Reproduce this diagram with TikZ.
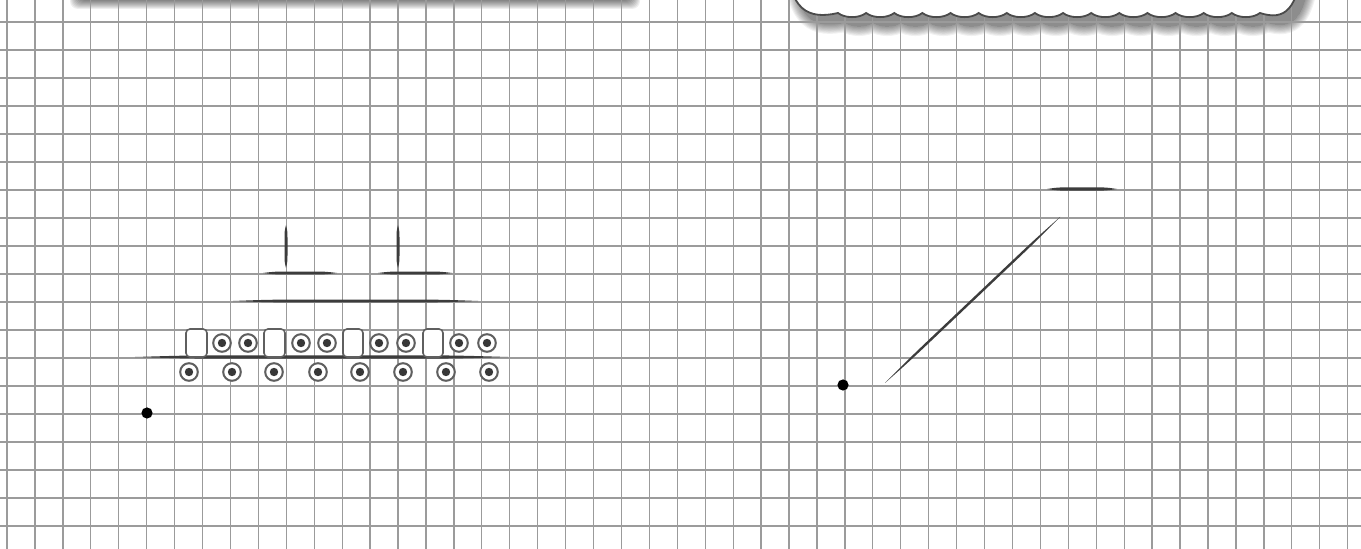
\documentclass[tikz,border=0pt]{standalone}
\usetikzlibrary{calc}
\definecolor{gridcol}{RGB}{155,155,155}
\definecolor{inkcol}{RGB}{60,60,60}
\definecolor{ringcol}{RGB}{95,95,95}
\definecolor{dotcol}{RGB}{55,55,55}
\definecolor{cloudcol}{RGB}{75,75,75}
\tikzset{
  gridline/.style={draw=gridcol, line width=0.65pt},
  doorbox/.style={draw=ringcol, line width=0.8pt, rounded corners=2pt, fill=white},
  ringstyle/.style={draw=ringcol, line width=1pt, fill=white},
}
\newcommand\taper[5]{%
  \fill[inkcol] (#1,#2)
   .. controls ($(#1,#2)!0.15!(#3,#4)!#5!90:(#3,#4)$) .. ($(#1,#2)!0.35!(#3,#4)!#5!90:(#3,#4)$)
   -- ($(#1,#2)!0.65!(#3,#4)!#5!90:(#3,#4)$)
   .. controls ($(#1,#2)!0.85!(#3,#4)!#5!90:(#3,#4)$) .. (#3,#4)
   .. controls ($(#1,#2)!0.85!(#3,#4)!#5!-90:(#3,#4)$) .. ($(#1,#2)!0.65!(#3,#4)!#5!-90:(#3,#4)$)
   -- ($(#1,#2)!0.35!(#3,#4)!#5!-90:(#3,#4)$)
   .. controls ($(#1,#2)!0.15!(#3,#4)!#5!-90:(#3,#4)$) .. (#1,#2) -- cycle;}
\newcommand\win[2]{%
  \path[ringstyle] (#1,#2) circle[radius=4.4pt];
  \fill[dotcol] (#1,#2) circle[radius=2.1pt];}
\newcommand\cloudpath{(787,-40) .. controls (789,10) and (808,20) .. (838,13)
  \foreach \k in {0,...,14}{ .. controls ({838+28.13*\k+7},18.5) and ({838+28.13*\k+21},18.5) .. ({838+28.13*(\k+1)},13) }
  .. controls (1285,21) and (1298,10) .. (1303,-40) -- cycle}
\begin{document}
\begin{tikzpicture}[x=0.5pt,y=-0.5pt]
\useasboundingbox (0,0) rectangle (1361,549);
\fill[white] (0,0) rectangle (1361,549);
\clip (0,0) rectangle (1361,549);
% shadow of the box above the frame (top left)
\foreach \e in {0,...,8}
  \fill[black, opacity=0.065, rounded corners=4pt] ({78-\e},-40) rectangle ({632+\e},{1+\e});
% shadow of the cloud above the frame (top right)
\foreach \e in {0,...,9} {
  \begin{scope}[transparency group, opacity=0.055, shift={(7,9)}]
    \path[fill=black, draw=black, line width={\e*1.1pt}] \cloudpath;
  \end{scope}
}
% grid
\foreach \i in {0,...,48} \draw[gridline] ({7+27.93*\i},0) -- ({7+27.93*\i},549);
\foreach \j in {0,...,18} \draw[gridline] (0,{22+28*\j}) -- (1361,{22+28*\j});
% cloud
\path[fill=white, draw=cloudcol, line width=0.9pt] \cloudpath;
% ship
\taper{135}{357}{508}{357}{0.85pt}
\taper{233}{301}{478}{301}{0.7pt}
\taper{263}{273}{337}{273}{0.7pt}
\taper{378}{273}{452}{273}{0.7pt}
\taper{286}{225}{286}{268}{0.75pt}
\taper{398}{225}{398}{268}{0.75pt}
\path[doorbox] (186,329) rectangle (207,357);
\path[doorbox] (264,329) rectangle (285,357);
\path[doorbox] (343,329) rectangle (363,357);
\path[doorbox] (423,329) rectangle (443,357);
\foreach \x in {222,248,301,327,379,406,459,487} {\win{\x}{343}}
\foreach \x in {189,232,274,318,360,403,446,489} {\win{\x}{372}}
\fill[black] (147,413) circle[radius=2.8pt];
% right figure
\fill[black] (843,385) circle[radius=2.8pt];
\taper{885}{383}{1060}{217}{0.6pt}
\taper{1047}{189}{1117}{189}{0.8pt}
\end{tikzpicture}
\end{document}
